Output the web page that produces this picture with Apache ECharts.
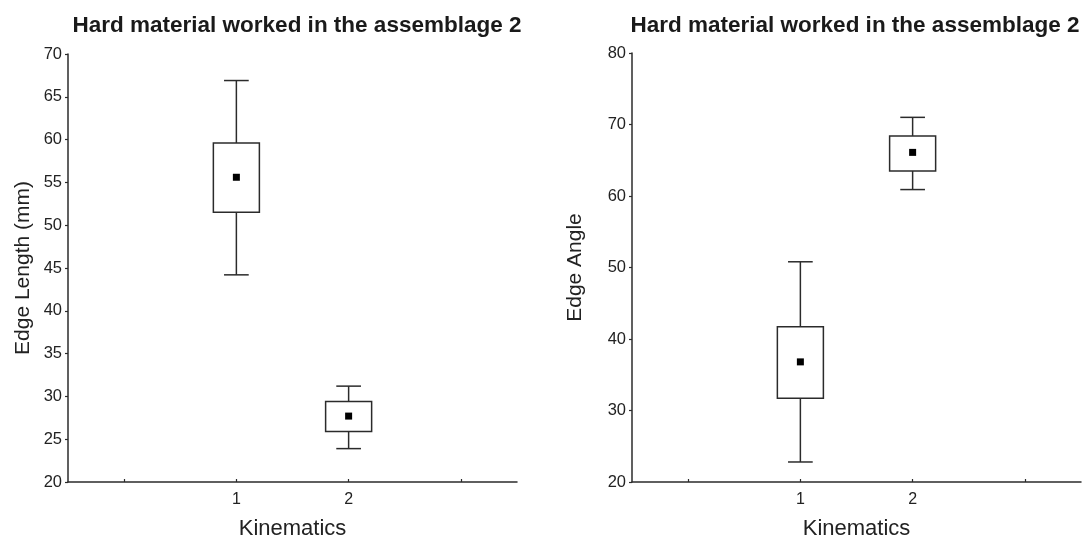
<!DOCTYPE html>
<html>
<head>
<meta charset="utf-8">
<script src="https://cdn.jsdelivr.net/npm/echarts@6/dist/echarts.min.js"></script>
<style>
  html, body { margin: 0; padding: 0; background: #fff; }
  #chart { width: 1082px; height: 539px; }
</style>
</head>
<body>
<div id="chart"></div>
<script>
// Category slots on the x axis (outer ones are empty padding slots)
const categories = ['', '1', '2', ''];

// Left panel: Edge Length (mm) — [categoryIndex, whiskerLow, boxLow, mean, boxHigh, whiskerHigh]
const lengthStats = [
  [1, 44.2, 51.5, 55.6, 59.6, 66.9],
  [2, 23.9, 25.9, 27.7, 29.4, 31.2]
];

// Right panel: Edge Angle
const angleStats = [
  [1, 22.8, 31.7, 36.8, 41.7, 50.8],
  [2, 60.9, 63.5, 66.1, 68.4, 71.0]
];

const titleText = 'Hard material worked in the assemblage 2';
const xName = 'Kinematics';
const yNameLeft = 'Edge Length (mm)';
const yNameRight = 'Edge Angle';

const FONT = '"Liberation Sans", Arial, sans-serif';
const INK = '#2b2b2b';

function renderBox(params, api) {
  const x = api.value(0);
  const wLo = api.coord([x, api.value(1)]);
  const bLo = api.coord([x, api.value(2)]);
  const mean = api.coord([x, api.value(3)]);
  const bHi = api.coord([x, api.value(4)]);
  const wHi = api.coord([x, api.value(5)]);
  const band = api.size([1, 0])[0];
  const boxW = band * 0.41;
  const capW = band * 0.22;
  const cx = mean[0];
  const lineStyle = { stroke: INK, lineWidth: 1.5, fill: null };
  const sq = 7;
  return {
    type: 'group',
    children: [
      { type: 'line', shape: { x1: cx, y1: wHi[1], x2: cx, y2: bHi[1] }, style: lineStyle },
      { type: 'line', shape: { x1: cx, y1: bLo[1], x2: cx, y2: wLo[1] }, style: lineStyle },
      { type: 'line', shape: { x1: cx - capW / 2, y1: wHi[1], x2: cx + capW / 2, y2: wHi[1] }, style: lineStyle },
      { type: 'line', shape: { x1: cx - capW / 2, y1: wLo[1], x2: cx + capW / 2, y2: wLo[1] }, style: lineStyle },
      { type: 'rect', shape: { x: cx - boxW / 2, y: bHi[1], width: boxW, height: bLo[1] - bHi[1] },
        style: { stroke: INK, lineWidth: 1.5, fill: '#fff' } },
      { type: 'rect', shape: { x: cx - sq / 2, y: mean[1] - sq / 2, width: sq, height: sq },
        style: { fill: '#000' } }
    ]
  };
}

function xAxisCfg(gridIndex) {
  return {
    gridIndex,
    type: 'category',
    data: categories,
    boundaryGap: true,
    name: xName,
    nameLocation: 'middle',
    nameGap: 36,
    nameTextStyle: { fontFamily: FONT, fontSize: 22, color: '#222' },
    axisLine: { show: true, lineStyle: { color: INK, width: 1.5 } },
    axisTick: { show: true, alignWithLabel: true, inside: true, length: 3, lineStyle: { color: INK, width: 1.2 } },
    axisLabel: { show: true, margin: 10, fontFamily: FONT, fontSize: 16, color: '#222' },
    splitLine: { show: false }
  };
}

function yAxisCfg(gridIndex, min, max, interval, name, gap) {
  return {
    gridIndex,
    type: 'value',
    min, max, interval,
    name,
    nameLocation: 'middle',
    nameGap: gap,
    nameTextStyle: { fontFamily: FONT, fontSize: 21, color: '#222' },
    axisLine: { show: true, lineStyle: { color: INK, width: 1.5 } },
    axisTick: { show: true, inside: false, length: 3, lineStyle: { color: INK, width: 1.2 } },
    axisLabel: { margin: 6, fontFamily: FONT, fontSize: 16.5, color: '#222' },
    splitLine: { show: false }
  };
}

const chart = echarts.init(document.getElementById('chart'), null, { renderer: 'canvas' });
chart.setOption({
  animation: false,
  backgroundColor: '#fff',
  title: [
    { text: titleText, left: 292, top: 9, textAlign: 'center',
      textStyle: { fontFamily: FONT, fontSize: 22.5, fontWeight: 'bold', color: '#1a1a1a' } },
    { text: titleText, left: 850, top: 9, textAlign: 'center',
      textStyle: { fontFamily: FONT, fontSize: 22.5, fontWeight: 'bold', color: '#1a1a1a' } }
  ],
  grid: [
    { left: 68, top: 54, width: 449, height: 428, outerBoundsMode: 'none', containLabel: false },
    { left: 632, top: 53, width: 449, height: 429, outerBoundsMode: 'none', containLabel: false }
  ],
  xAxis: [xAxisCfg(0), xAxisCfg(1)],
  yAxis: [
    yAxisCfg(0, 20, 70, 5, yNameLeft, 34),
    yAxisCfg(1, 20, 80, 10, yNameRight, 46)
  ],
  series: [
    { type: 'custom', xAxisIndex: 0, yAxisIndex: 0, renderItem: renderBox, data: lengthStats,
      encode: { x: 0, y: [1, 5] } },
    { type: 'custom', xAxisIndex: 1, yAxisIndex: 1, renderItem: renderBox, data: angleStats,
      encode: { x: 0, y: [1, 5] } }
  ]
});
</script>
</body>
</html>
